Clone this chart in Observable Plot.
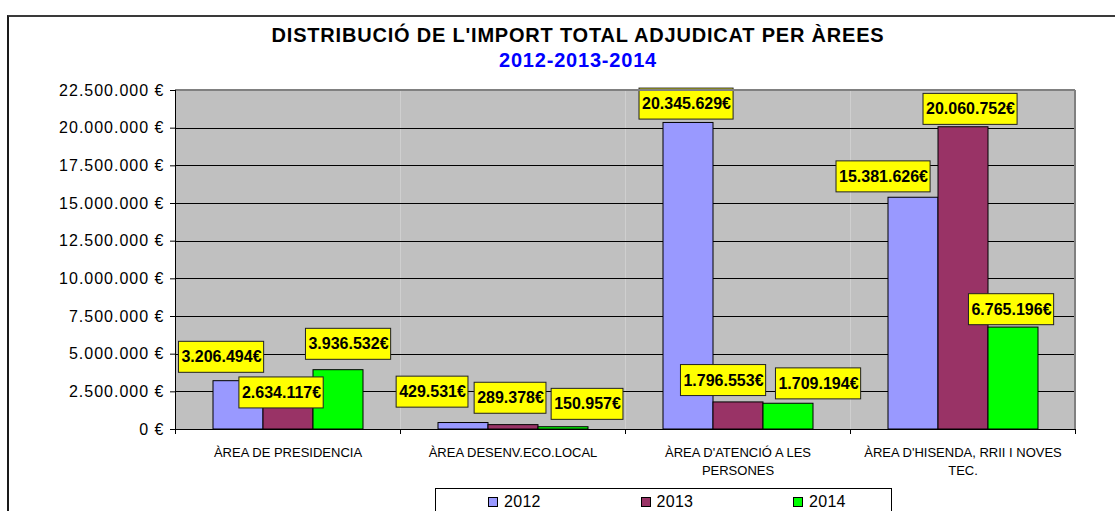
<!DOCTYPE html>
<html>
<head>
<meta charset="utf-8">
<script src="https://cdn.jsdelivr.net/npm/d3@7"></script>
<script src="https://cdn.jsdelivr.net/npm/@observablehq/plot@0.6"></script>
<style>
  body { margin: 0; background: #fff; }
  #page { position: relative; width: 1115px; height: 511px; overflow: hidden; font-family: "Liberation Sans", Arial, sans-serif; }
  #frameBorder { position: absolute; left: 7px; top: 15px; width: 1200px; height: 600px; border-left: 2px solid #1a1a1a; border-top: 2px solid #3a3a3a; }
  #title { position: absolute; left: 0; top: 24px; width: 1156px; text-align: center; font-weight: bold; font-size: 20px; line-height: 23px; letter-spacing: 0.8px; color: #000; }
  #subtitle { position: absolute; left: 0; top: 49px; width: 1156px; text-align: center; font-weight: bold; font-size: 20px; line-height: 23px; letter-spacing: 0.8px; color: #0000ff; }
  #chart { position: absolute; left: 0; top: 70px; }
  #legend { position: absolute; left: 435px; top: 488px; width: 455px; height: 40px; border: 1px solid #000; background: #fff; }
  .sw { position: absolute; top: 8px; width: 8px; height: 8px; border: 1px solid #000; }
  .lt { position: absolute; top: 4px; font-size: 16px; line-height: 18px; letter-spacing: 0.3px; }
  g[aria-label="y-axis tick label"] text { letter-spacing: 1px; }
</style>
</head>
<body>
<div id="page">
  <div id="frameBorder"></div>
  <div id="title">DISTRIBUCIÓ DE L'IMPORT TOTAL ADJUDICAT PER ÀREES</div>
  <div id="subtitle">2012-2013-2014</div>
  <div id="chart"></div>
  <div id="legend"></div>
</div>
<script>
// ---- data ----
const categories = [
  "ÀREA DE PRESIDENCIA",
  "ÀREA DESENV.ECO.LOCAL",
  "ÀREA D'ATENCIÓ A LES PERSONES",
  "ÀREA D'HISENDA, RRII I NOVES TEC."
];
const years = ["2012", "2013", "2014"];
const values2012 = [3206494, 429531, 20345629, 15381626];
const values2013 = [2634117, 289378, 1796553, 20060752];
const values2014 = [3936532, 150957, 1709194, 6765196];
const yTicks = [0, 2500000, 5000000, 7500000, 10000000, 12500000, 15000000, 17500000, 20000000, 22500000];

// ---- styling ----
const colors = ["#9999ff", "#993366", "#00ff00"];
// label box offsets (px) relative to top-centre of each bar, per year, per category
const labelOffsets = [
  [[-17, -24], [-31, -31], [-2, -19], [-30, -21]],
  [[-7, 3], [-3, -27], [-15, -22], [7, -18]],
  [[10, -26], [24, -23], [30, -20], [-2, -18]]
];

const series = [values2012, values2013, values2014];
const rows = categories.flatMap((c, i) => years.map((yr, j) => ({category: c, year: yr, value: series[j][i], j, i})));

const loc = d3.formatLocale({decimal: ",", thousands: ".", grouping: [3], currency: ["", "€"]});
const fmtNum = loc.format(",d");

function wrap(s) {
  const max = 28;
  if (s.length <= 22) return s;
  const cut = s.lastIndexOf(" ", max);
  return s.slice(0, cut) + "\n" + s.slice(cut + 1);
}

const yMax = yTicks[yTicks.length - 1];

const labelMarks = rows.map(r => Plot.text([r], {
  fx: "category", x: "year", y: "value",
  text: d => fmtNum(d.value) + "€",
  dx: labelOffsets[r.j][r.i][0], dy: labelOffsets[r.j][r.i][1],
  fontSize: 16, fontWeight: "bold", fill: "#000",
  textAnchor: "middle", lineAnchor: "middle"
}));

const plot = Plot.plot({
  width: 1115,
  height: 410,
  marginLeft: 175,
  marginRight: 40,
  marginTop: 20,
  marginBottom: 51,
  style: {background: "transparent", fontFamily: "'Liberation Sans', Arial, sans-serif", color: "#000", overflow: "visible"},
  fx: {domain: categories, padding: 0, label: null},
  x: {domain: years, paddingInner: 0, paddingOuter: 0.75, axis: null},
  y: {domain: [0, yMax], label: null},
  color: {domain: years, range: colors},
  marks: [
    Plot.frame({fill: "#c0c0c0"}),
    Plot.gridY(yTicks.filter(v => v > 0 && v < yMax), {stroke: "#000", strokeOpacity: 1, strokeWidth: 1, shapeRendering: "crispEdges"}),
    Plot.barY(rows, {fx: "category", x: "year", y: "value", fill: "year", stroke: "#000", strokeWidth: 1}),
    Plot.ruleY([0], {stroke: "#000", strokeWidth: 1, shapeRendering: "crispEdges"}),
    Plot.axisY(yTicks, {tickSize: 5, tickPadding: 6, fontSize: 16, tickFormat: d => fmtNum(d) + " €", label: null}),
    Plot.axisFx({anchor: "bottom", tickSize: 0, tickPadding: 15, fontSize: 13, lineHeight: 1.38, tickFormat: wrap, label: null}),
    ...labelMarks
  ]
});

document.getElementById("chart").append(plot);

// yellow boxes behind value labels
const NS = "http://www.w3.org/2000/svg";
plot.querySelectorAll('g[aria-label="text"] text').forEach(t => {
  const b = t.getBBox();
  const r = document.createElementNS(NS, "rect");
  r.setAttribute("x", b.x - 3);
  r.setAttribute("y", b.y - 7);
  r.setAttribute("width", b.width + 5);
  r.setAttribute("height", b.height + 14);
  r.setAttribute("fill", "#ffff00");
  r.setAttribute("stroke", "#222");
  r.setAttribute("stroke-width", 1);
  const tr = t.getAttribute("transform");
  if (tr) r.setAttribute("transform", tr);
  t.parentNode.insertBefore(r, t);
});

// plot-area border, y-axis line and category boundary ticks from the library's scales
const fxs = plot.scale("fx");
const ys = plot.scale("y");
const band = d3.scaleBand(fxs.domain, fxs.range).paddingInner(fxs.paddingInner ?? 0).paddingOuter(fxs.paddingOuter ?? 0).align(fxs.align ?? 0.5);
const y0 = ys.apply ? ys.apply(0) : d3.scaleLinear(ys.domain, ys.range)(0);
const yT = ys.apply ? ys.apply(yMax) : d3.scaleLinear(ys.domain, ys.range)(yMax);
const left = band(categories[0]);
const right = band(categories[categories.length - 1]) + band.bandwidth();
const g = d3.select(plot).append("g").attr("shape-rendering", "crispEdges");
g.append("line").attr("x1", left).attr("x2", right).attr("y1", yT).attr("y2", yT).attr("stroke", "#808080").attr("stroke-width", 2);
g.append("line").attr("x1", right).attr("x2", right).attr("y1", yT).attr("y2", y0).attr("stroke", "#808080").attr("stroke-width", 2);
g.append("line").attr("x1", left).attr("x2", left).attr("y1", yT).attr("y2", y0).attr("stroke", "#000");
const bounds = categories.map(c => band(c)).concat([right]);
bounds.forEach(bx => g.append("line").attr("x1", bx).attr("x2", bx).attr("y1", y0).attr("y2", y0 + 5).attr("stroke", "#000"));

// legend
const lg = document.getElementById("legend");
years.forEach((yr, i) => {
  const sw = document.createElement("div");
  sw.className = "sw";
  sw.style.left = (52 + i * 152.5) + "px";
  sw.style.background = colors[i];
  lg.append(sw);
  const lt = document.createElement("div");
  lt.className = "lt";
  lt.style.left = (68 + i * 152.5) + "px";
  lt.textContent = yr;
  lg.append(lt);
});
</script>
</body>
</html>
